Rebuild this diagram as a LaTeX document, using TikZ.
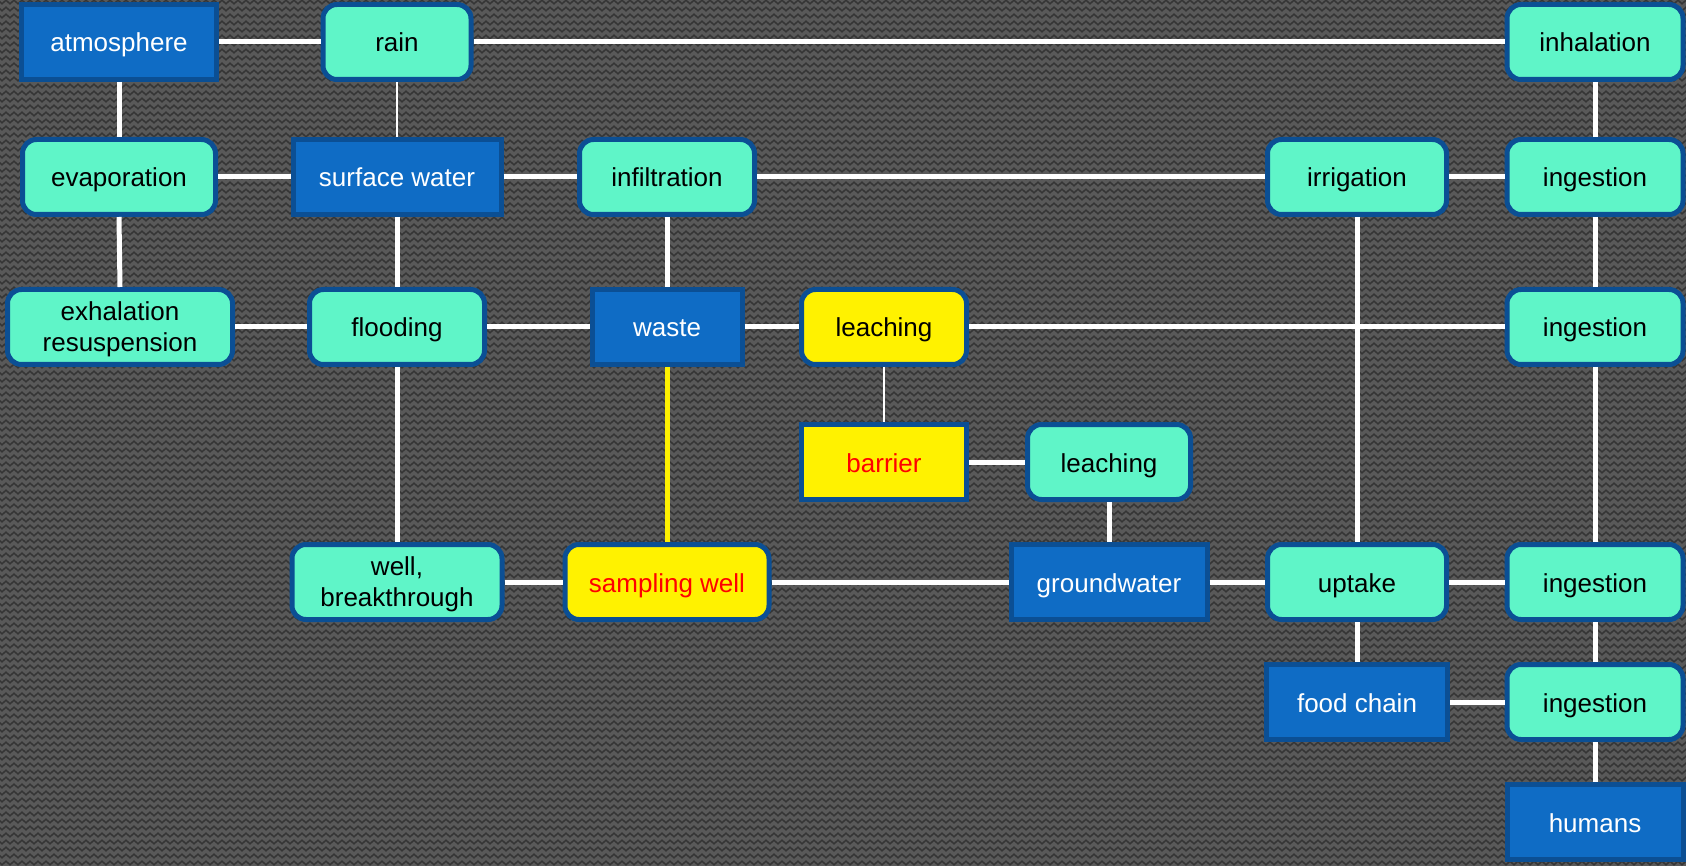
\documentclass[tikz,border=0pt]{standalone}
\usepackage{fontspec}
\setmainfont{Liberation Sans}
\usepackage{tikz}
\usetikzlibrary{decorations.pathmorphing}

\definecolor{boxblue}{HTML}{0F6CC5}
\definecolor{rimblue}{HTML}{0B4F94}
\definecolor{aqua}{HTML}{5FF5C8}
\definecolor{bggray}{HTML}{595959}
\definecolor{ziggray}{HTML}{353535}

\begin{document}
\begin{tikzpicture}[x=1pt,y=-1pt,
        store/.style={rectangle, draw=rimblue, line width=5pt, fill=boxblue,
            text=white, inner sep=0pt, minimum height=75pt, align=center,
            text height=20pt, text depth=0pt,
            font=\fontsize{26}{31}\selectfont},
        process/.style={store, rounded corners=14pt, fill=aqua, text=black},
        check/.style={store, fill=yellow, text=red},
        twolines/.style={text height={}},
        link/.style={draw=white, line width=5pt},
        thinlink/.style={draw=white, line width=1.8pt},
        zigline/.style={draw=ziggray, line width=1.5pt, decorate,
            decoration={zigzag, segment length=8pt, amplitude=1.8pt}}]
        \useasboundingbox (0,0) rectangle (1686,866);

        % Background
        \fill[bggray] (0,0) rectangle (1686,866);
        \begin{scope}
            \clip (0,0) rectangle (1686,866);
            \foreach \y in {2,9,...,870}
                \draw[zigline] (-4,\y) -- (1690,\y);
        \end{scope}

        % Row 1
        \node[store, minimum width=195pt] (atmos) at (119,42) {atmosphere};
        \node[process, minimum width=148pt] (rain) at (397,42) {rain};
        \node[process, minimum width=176pt] (inhal) at (1595,42) {inhalation};

        % Row 2
        \node[process, minimum width=193pt] (evap) at (119,177) {evaporation};
        \node[store, minimum width=208pt] (surf) at (397,177) {surface water};
        \node[process, minimum width=175pt] (infil) at (667,177) {infiltration};
        \node[process, minimum width=179pt] (irrig) at (1357,177) {irrigation};
        \node[process, minimum width=176pt] (ingA) at (1595,177) {ingestion};

        % Row 3
        \node[process, twolines, minimum width=225pt] (exhal) at (120,327) {exhalation\\resuspension};
        \node[process, minimum width=175pt] (flood) at (397,327) {flooding};
        \node[store, minimum width=150pt] (waste) at (667,327) {waste};
        \node[check, rounded corners=14pt, text=black, minimum width=165pt] (leachA) at (884,327) {leaching};
        \node[process, minimum width=176pt] (ingB) at (1595,327) {ingestion};

        % Row 4
        \node[check, minimum width=165pt] (barrier) at (884,462) {barrier};
        \node[process, minimum width=163pt] (leachB) at (1109,462) {leaching};

        % Row 5
        \node[process, twolines, minimum width=210pt] (well) at (397,582) {well,\\breakthrough};
        \node[check, rounded corners=14pt, minimum width=204pt] (sampling) at (667,582) {sampling well};
        \node[store, minimum width=196pt] (ground) at (1109,582) {groundwater};
        \node[process, minimum width=179pt] (uptake) at (1357,582) {uptake};
        \node[process, minimum width=176pt] (ingC) at (1595,582) {ingestion};

        % Row 6 and 7
        \node[store, minimum width=181pt] (food) at (1357,702) {food chain};
        \node[process, minimum width=176pt] (ingD) at (1595,702) {ingestion};
        \node[store, minimum width=176pt] (humans) at (1595,822) {humans};

        % Horizontal links
        \draw[link] (atmos.east) -- (rain.west);
        \draw[link] (rain.east) -- (inhal.west);
        \draw[link] (evap.east) -- (surf.west);
        \draw[link] (surf.east) -- (infil.west);
        \draw[link] (infil.east) -- (irrig.west);
        \draw[link] (irrig.east) -- (ingA.west);
        \draw[link] (exhal.east) -- (flood.west);
        \draw[link] (flood.east) -- (waste.west);
        \draw[link] (waste.east) -- (leachA.west);
        \draw[link] (leachA.east) -- (ingB.west);
        \draw[link] (barrier.east) -- (leachB.west);
        \draw[link] (well.east) -- (sampling.west);
        \draw[link] (sampling.east) -- (ground.west);
        \draw[link] (ground.east) -- (uptake.west);
        \draw[link] (uptake.east) -- (ingC.west);
        \draw[link] (food.east) -- (ingD.west);

        % Vertical links
        \draw[link] (atmos.south) -- (evap.north);
        \draw[thinlink] (rain.south) -- (surf.north);
        \draw[link] (inhal.south) -- (ingA.north);
        \draw[link] (evap.south) -- (exhal.north);
        \draw[link] (surf.south) -- (flood.north);
        \draw[link] (infil.south) -- (waste.north);
        \draw[link] (irrig.south) -- (uptake.north);
        \draw[link] (ingA.south) -- (ingB.north);
        \draw[link] (flood.south) -- (well.north);
        \draw[link, draw=yellow] (waste.south) -- (sampling.north);
        \draw[thinlink, line width=1.4pt] (leachA.south) -- (barrier.north);
        \draw[link] (leachB.south) -- (ground.north);
        \draw[link] (ingB.south) -- (ingC.north);
        \draw[link] (uptake.south) -- (food.north);
        \draw[link] (ingC.south) -- (ingD.north);
        \draw[link] (ingD.south) -- (humans.north);
    \end{tikzpicture}
\end{document}
